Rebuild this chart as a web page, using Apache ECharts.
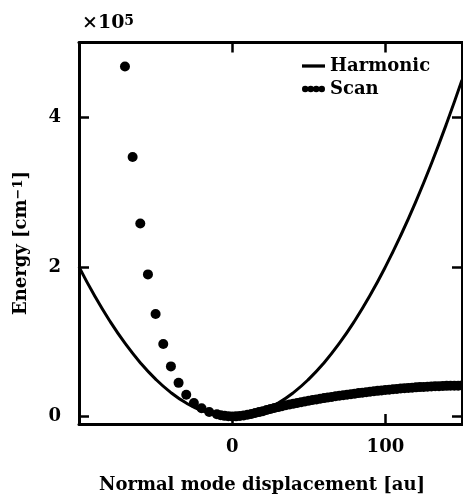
<!DOCTYPE html>
<html>
<head>
<meta charset="utf-8">
<script src="https://cdn.jsdelivr.net/npm/echarts@6/dist/echarts.min.js"></script>
<style>
  html, body { margin: 0; padding: 0; background: #fff; }
  #chart { width: 463px; height: 495px; }
</style>
</head>
<body>
<div id="chart"></div>
<script>
// Harmonic approximation of the potential along the normal mode (cm^-1 vs au)
const harmonicX = [-100, -90, -80, -70, -60, -50, -40, -30, -20, -10, 0, 10, 20, 30, 40, 50,
                   60, 70, 80, 90, 100, 110, 120, 130, 140, 150];
const harmonicY = [200000, 162000, 128000, 98000, 72000, 50000, 32000, 18000, 8000, 2000, 0, 2000,
                   8000, 18000, 32000, 50000, 72000, 98000, 128000, 162000, 200000, 242000,
                   288000, 338000, 392000, 450000];

// Scanned energies along the same displacement
const scanX = [-70, -65, -60, -55, -50, -45, -40, -35, -30, -25, -20, -15, -10, -7.5, -5, -2.5,
               0, 2.5, 5, 7.5, 10, 12.5, 15, 17.5, 20, 22.5, 25, 27.5, 30, 32.5, 35, 37.5, 40,
               42.5, 45, 47.5, 50, 52.5, 55, 57.5, 60, 62.5, 65, 67.5, 70, 72.5, 75, 77.5, 80,
               82.5, 85, 87.5, 90, 92.5, 95, 97.5, 100, 102.5, 105, 107.5, 110, 112.5, 115,
               117.5, 120, 122.5, 125, 127.5, 130, 132.5, 135, 137.5, 140, 142.5, 145, 147.5, 150];
const scanY = [468000, 347000, 258000, 190000, 137000, 97000, 67000, 45000, 29000, 18000, 11000,
               6000, 3000, 1800, 900, 300,
               0, 200, 700, 1400, 2300, 3400, 4600, 5900, 7200, 8600, 10000, 11300, 12600, 13800,
               15000, 16100, 17200, 18200, 19200, 20200, 21100, 22000, 22900, 23800, 24600, 25400,
               26200, 27000, 27800, 28500, 29200, 29900, 30600, 31300, 31900, 32500, 33100, 33700,
               34300, 34900, 35400, 35900, 36400, 36900, 37400, 37800, 38200, 38600, 39000, 39300,
               39600, 39900, 40200, 40400, 40600, 40800, 41000, 41100, 41200, 41300, 41400];

// Axis ticks and labels
const xTickValues = [0, 100];
const yTickValues = [0, 200000, 400000];
const yLabelScale = 100000;

const FONT = 'DejaVu Serif';
const INK = '#000';

const harmonicData = harmonicX.map((x, i) => [x, harmonicY[i]]);
const scanData = scanX.map((x, i) => [x, scanY[i]]);

const axisLine = { show: true, onZero: false, lineStyle: { color: INK, width: 3 } };
const tickStyle = { color: INK, width: 2.5 };

const chart = echarts.init(document.getElementById('chart'), null, { renderer: 'canvas' });

chart.setOption({
  animation: false,
  backgroundColor: '#fff',
  grid: { left: 79, right: 1, top: 42.5, bottom: 71, containLabel: false },
  xAxis: [
    {
      type: 'value', min: -100, max: 150, position: 'bottom',
      axisLine: axisLine,
      axisTick: { show: true, inside: true, length: 10, lineStyle: tickStyle, customValues: xTickValues },
      axisLabel: { show: true, customValues: xTickValues, margin: 14, color: INK,
                   fontFamily: FONT, fontWeight: 'bold', fontSize: 18 },
      splitLine: { show: false }
    },
    {
      type: 'value', min: -100, max: 150, position: 'top',
      axisLine: axisLine,
      axisTick: { show: true, inside: true, length: 10, lineStyle: tickStyle, customValues: xTickValues },
      axisLabel: { show: false },
      splitLine: { show: false }
    }
  ],
  yAxis: [
    {
      type: 'value', min: -10000, max: 500000, position: 'left',
      axisLine: axisLine,
      axisTick: { show: true, inside: true, length: 10, lineStyle: tickStyle, customValues: yTickValues },
      axisLabel: { show: true, customValues: yTickValues, margin: 18, color: INK,
                   fontFamily: FONT, fontWeight: 'bold', fontSize: 18,
                   formatter: v => String(Math.round(v / yLabelScale)) },
      splitLine: { show: false }
    },
    {
      type: 'value', min: -10000, max: 500000, position: 'right',
      axisLine: axisLine,
      axisTick: { show: true, inside: true, length: 10, lineStyle: tickStyle, customValues: yTickValues },
      axisLabel: { show: false },
      splitLine: { show: false }
    }
  ],
  legend: {
    orient: 'vertical',
    left: 302, top: 57,
    itemWidth: 23, itemHeight: 8, itemGap: 5,
    padding: 0,
    textStyle: { color: INK, fontFamily: FONT, fontWeight: 'bold', fontSize: 18, lineHeight: 18 },
    data: [
      { name: 'Harmonic', icon: 'path://M0,0H21V3H0Z', itemStyle: { color: INK } },
      { name: 'Scan',
        icon: 'path://M0,3.5a3.5,3.5 0 1,0 7,0a3.5,3.5 0 1,0 -7,0Z' +
              'M6,3.5a3.5,3.5 0 1,0 7,0a3.5,3.5 0 1,0 -7,0Z' +
              'M12,3.5a3.5,3.5 0 1,0 7,0a3.5,3.5 0 1,0 -7,0Z' +
              'M18,3.5a3.5,3.5 0 1,0 7,0a3.5,3.5 0 1,0 -7,0Z',
        itemStyle: { color: INK } }
    ]
  },
  graphic: [
    {
      type: 'text', x: 82, y: 14, z: 10,
      style: {
        text: '×10{sup|5}',
        fill: INK, fontFamily: FONT, fontWeight: 'bold', fontSize: 19,
        rich: { sup: { fontSize: 14, fontWeight: 'bold', fontFamily: FONT, verticalAlign: 'top', lineHeight: 14 } }
      }
    },
    {
      type: 'text', x: 21, y: 243, rotation: Math.PI / 2, z: 10,
      style: {
        text: 'Energy [cm{sup|−1}]',
        align: 'center', verticalAlign: 'middle',
        fill: INK, fontFamily: FONT, fontWeight: 'bold', fontSize: 18,
        rich: { sup: { fontSize: 13, fontWeight: 'bold', fontFamily: FONT, verticalAlign: 'top', lineHeight: 13 } }
      }
    },
    {
      type: 'text', x: 262, y: 485, z: 10,
      style: {
        text: 'Normal mode displacement [au]',
        align: 'center', verticalAlign: 'middle',
        fill: INK, fontFamily: FONT, fontWeight: 'bold', fontSize: 18
      }
    }
  ],
  series: [
    {
      name: 'Harmonic', type: 'line', data: harmonicData,
      xAxisIndex: 0, yAxisIndex: 0,
      smooth: true, showSymbol: false, symbol: 'none',
      lineStyle: { color: INK, width: 3 },
      z: 3
    },
    {
      name: 'Scan', type: 'scatter', data: scanData,
      xAxisIndex: 0, yAxisIndex: 0,
      symbol: 'circle', symbolSize: 10,
      itemStyle: { color: INK, opacity: 1 },
      z: 4
    }
  ]
});
</script>
</body>
</html>
